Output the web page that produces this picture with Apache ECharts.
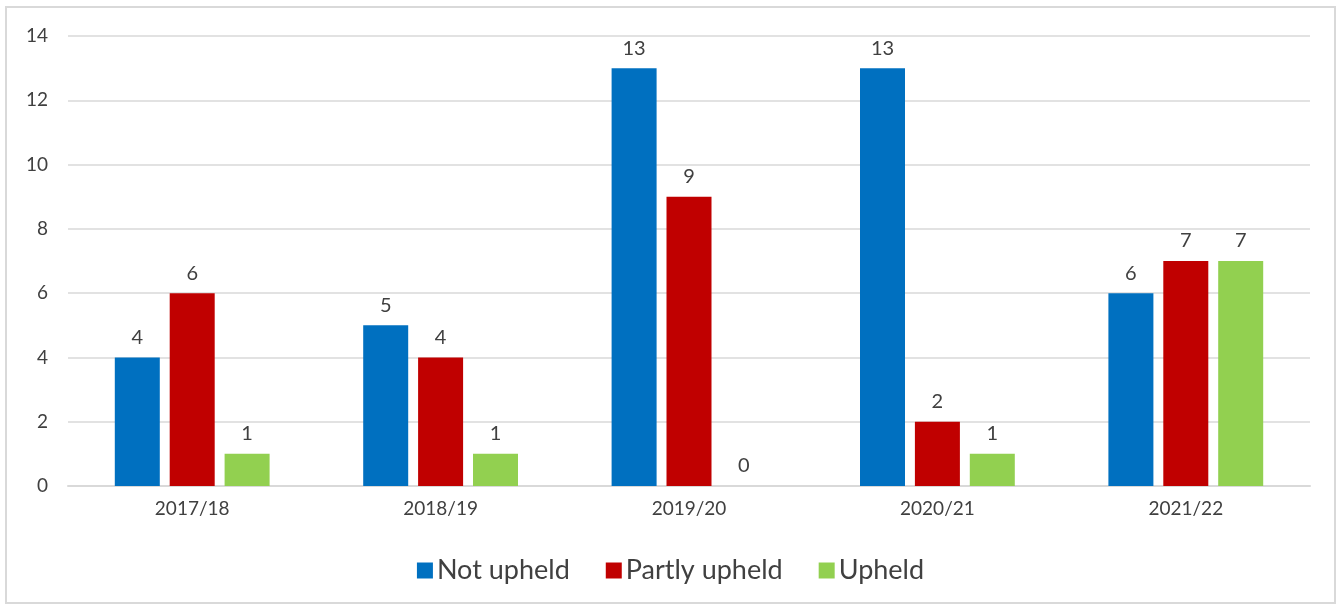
<!DOCTYPE html>
<html>
<head>
<meta charset="utf-8">
<script src="https://cdn.jsdelivr.net/npm/echarts@6/dist/echarts.min.js"></script>
<style>
  html, body { margin: 0; padding: 0; background: #fff; }
  #frame { position: absolute; left: 5px; top: 6px; width: 1331px; height: 598px; border: 2px solid #d9d9d9; box-sizing: border-box; }
  #chart { position: absolute; left: 0; top: 0; width: 1341px; height: 608px; }
</style>
</head>
<body>
<div id="frame"></div>
<div id="chart"></div>
<script>
// Complaint outcomes by financial year
const years = ['2017/18', '2018/19', '2019/20', '2020/21', '2021/22'];
const notUpheld = [4, 5, 13, 13, 6];
const partlyUpheld = [6, 4, 9, 2, 7];
const upheld = [1, 1, 0, 1, 7];
const yTicks = [0, 2, 4, 6, 8, 10, 12, 14];

const FONT = 'Lato, "Open Sans", sans-serif';
const TEXT = '#404040';

function barSeries(name, data, color) {
  return {
    name: name,
    type: 'bar',
    data: data,
    barWidth: 45,
    barGap: '22%',
    itemStyle: { color: color },
    label: {
      show: true,
      position: 'top',
      distance: 10,
      color: TEXT,
      fontFamily: FONT,
      fontSize: 20
    }
  };
}

const chart = echarts.init(document.getElementById('chart'), null, { renderer: 'canvas' });
chart.setOption({
  animation: false,
  backgroundColor: 'transparent',
  grid: { left: 68, right: 31, top: 36, bottom: 122, containLabel: false },
  legend: {
    bottom: 19,
    left: 'center',
    itemWidth: 16,
    itemHeight: 16,
    itemGap: 36,
    icon: 'rect',
    textStyle: { color: TEXT, fontFamily: FONT, fontSize: 27, padding: [0, 0, 0, -1] },
    data: ['Not upheld', 'Partly upheld', 'Upheld']
  },
  xAxis: {
    type: 'category',
    data: years,
    axisLine: { lineStyle: { color: '#d9d9d9', width: 2 } },
    axisTick: { show: false },
    axisLabel: { color: TEXT, fontFamily: FONT, fontSize: 19, margin: 13 }
  },
  yAxis: {
    type: 'value',
    min: yTicks[0],
    max: yTicks[yTicks.length - 1],
    interval: 2,
    axisLine: { show: false },
    axisTick: { show: false },
    splitLine: { lineStyle: { color: '#d9d9d9', width: 1.5 } },
    axisLabel: { color: TEXT, fontFamily: FONT, fontSize: 19, margin: 20 }
  },
  series: [
    barSeries('Not upheld', notUpheld, '#0070C0'),
    barSeries('Partly upheld', partlyUpheld, '#C00000'),
    barSeries('Upheld', upheld, '#92D050')
  ]
});
</script>
</body>
</html>
